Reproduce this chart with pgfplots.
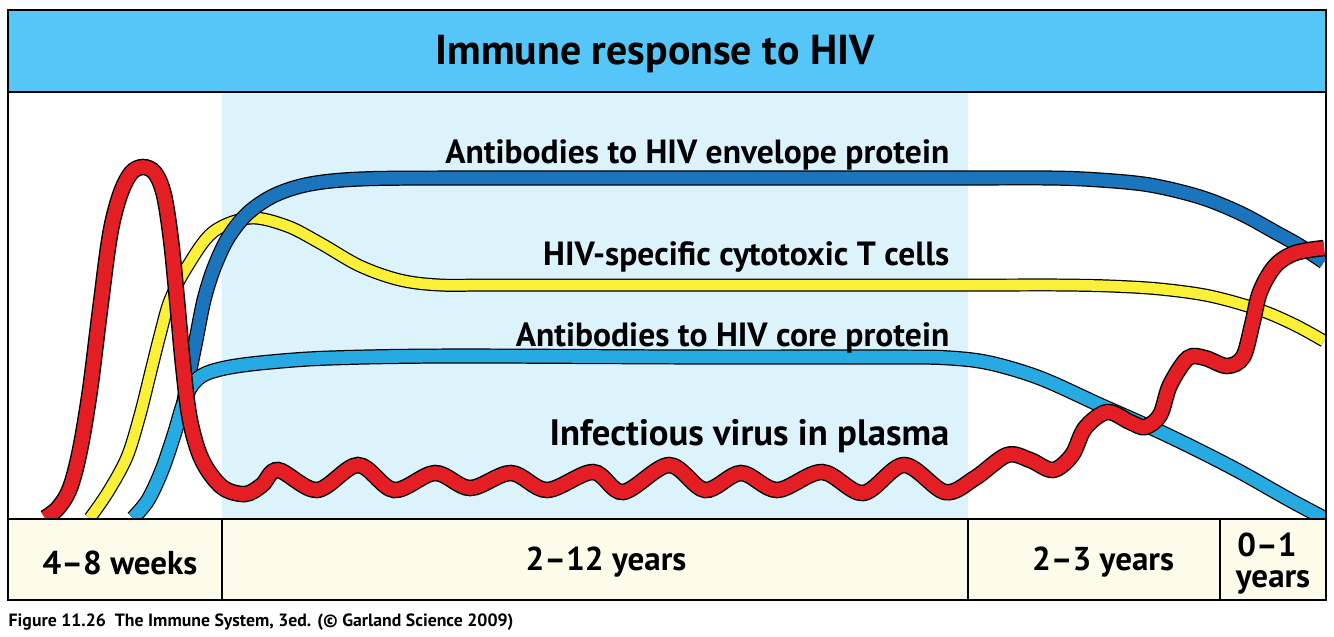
\documentclass[border=0pt]{standalone}
\usepackage{pgfplots}
\pgfplotsset{compat=1.18}
\usepackage{fontspec}
\setmainfont{PT Sans}

\definecolor{titlebar}{RGB}{86,197,248}
\definecolor{band}{RGB}{220,243,252}
\definecolor{cream}{RGB}{253,252,235}
\definecolor{virus}{RGB}{227,30,36}
\definecolor{ctl}{RGB}{250,240,55}
\definecolor{envblue}{RGB}{27,117,188}
\definecolor{coreblue}{RGB}{39,170,225}

\begin{document}
\begin{tikzpicture}[
    lbl/.style={inner sep=0pt, font=\fontsize{#1}{#1}\selectfont\bfseries},
]
\begin{axis}[
    width=13.34cm, height=6.36cm, scale only axis,
    xmin=0, xmax=1334, ymin=0, ymax=636, y dir=reverse,
    axis lines=none, ticks=none, clip=false,
    outline/.style={black, line width=#1, smooth, tension=0.55},
    curve/.style={line width=#1, smooth, tension=0.55},
]
% page corners
\addplot[draw=none] coordinates {(0,0) (1334,636)};
% title bar and shaded band
\addplot[fill=titlebar, draw=none] coordinates {(8,10) (1326,10) (1326,92) (8,92)} -- cycle;
\addplot[fill=band, draw=none] coordinates {(222,92) (968,92) (968,519) (222,519)} -- cycle;

% HIV-specific cytotoxic T cells
\pgfplotstableread{
x y
90 518
108 492
127 457
140 415
150 375
160 335
170 300
187 267
213 232
250 218
287 226
320 243
360 266
400 280
440 285
500 285
700 285
900 285
1000 285
1060 285
1110 286
1160 289
1210 296
1260 310
1295 325
1324 341
}\ctldata
\addplot[outline=3.7pt] table {\ctldata};
\addplot[curve=3.0pt, ctl] table {\ctldata};

% antibodies to envelope protein
\pgfplotstableread{
x y
182 412
188 380
196 340
204 300
214 268
228 238
248 213
275 195
310 184
360 179
450 178
700 178
950 178
1050 178
1100 180
1150 185
1200 197
1240 213
1275 232
1300 246
1324 262
}\envdata
\addplot[outline=4.3pt] table {\envdata};
\addplot[curve=3.6pt, envblue] table {\envdata};

% antibodies to core protein
\pgfplotstableread{
x y
133 518
148 500
162 470
174 435
183 405
192 385
205 374
230 367
270 362
330 358
450 356
700 357
900 357
950 358
990 363
1040 378
1100 405
1167 435
1233 468
1290 500
1324 518
}\coredata
\addplot[outline=4.3pt] table {\coredata};
\addplot[curve=3.6pt, coreblue] table {\coredata};

% infectious virus in plasma
\pgfplotstableread{
x y
45 518
58 508
70 488
80 450
90 390
100 310
110 235
120 195
131 173
143 167
155 173
164 195
171 240
177 300
183 365
190 420
202 460
222 487
245 494
262 485
278 470
317 490
358 465
394 490
435 473
470 488
511 473
547 490
593 472
623 492
669 465
705 490
741 473
777 490
822 472
863 493
904 465
945 492
975 478
1007 455
1030 460
1053 470
1072 455
1085 428
1107 412
1130 422
1145 427
1160 415
1170 385
1188 358
1205 358
1227 366
1243 357
1252 325
1260 292
1275 266
1295 253
1324 248
}\virusdata
\addplot[outline=4.7pt] table {\virusdata};
\addplot[curve=3.9pt, virus] table {\virusdata};

% time band and frame
\addplot[fill=cream, draw=none] coordinates {(8,519) (1326,519) (1326,600) (8,600)} -- cycle;
\addplot[fill=white, draw=none] coordinates {(1326,92) (1334,92) (1334,519) (1326,519)} -- cycle;
\addplot[black, line width=0.8pt] coordinates {(8,10) (1326,10) (1326,600) (8,600)} -- cycle;
\addplot[black, line width=0.8pt] coordinates {(8,92) (1326,92)};
\addplot[black, line width=0.8pt] coordinates {(8,519) (1326,519)};
\addplot[black, line width=0.8pt] coordinates {(222,519) (222,600)};
\addplot[black, line width=0.8pt] coordinates {(968,519) (968,600)};
\addplot[black, line width=0.8pt] coordinates {(1220,519) (1220,600)};

% text
\node[lbl=11.9, anchor=base] at (axis cs:655,64) {Immune response to HIV};
\node[lbl=9.55, anchor=base east] at (axis cs:950,163) {Antibodies to HIV envelope protein};
\node[lbl=9.55, anchor=base east] at (axis cs:950,265) {HIV-specific cytotoxic T cells};
\node[lbl=9.55, anchor=base east] at (axis cs:950,346) {Antibodies to HIV core protein};
\node[lbl=10.45, anchor=base east] at (axis cs:950,445) {Infectious virus in plasma};
\node[lbl=9.4, anchor=base] at (axis cs:120,574) {4–8 weeks};
\node[lbl=9.4, anchor=base] at (axis cs:606,570) {2–12 years};
\node[lbl=9.4, anchor=base] at (axis cs:1103,570) {2–3 years};
\node[lbl=9.4, anchor=base] at (axis cs:1267,556) {0–1};
\node[lbl=9.4, anchor=base] at (axis cs:1273,587) {years};
\node[lbl=5.05, anchor=base west] at (axis cs:8,626) {Figure 11.26\ \ The Immune System, 3ed. (© Garland Science 2009)};
\end{axis}
\end{tikzpicture}
\end{document}
